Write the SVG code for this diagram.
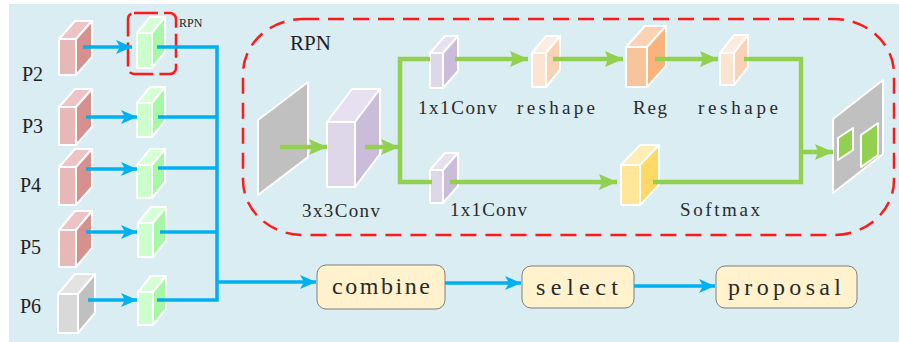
<svg xmlns="http://www.w3.org/2000/svg" width="899" height="342" viewBox="0 0 899 342">
<style>
.cb polygon,.cb rect{stroke:#fff;stroke-width:2;stroke-linejoin:round}
.lbl{font-family:"Liberation Serif",serif;fill:#222}
.mono{font-family:"Liberation Serif",serif;fill:#2a2a2a}
.blue{fill:none;stroke:#00b0f0;stroke-width:3.5}
.green{fill:none;stroke:#92d050;stroke-width:4.5}
.box rect{fill:#fff2cc;stroke:#7f7f7f;stroke-width:1}
.dash{fill:none;stroke:#ff1a1a;stroke-width:2.5}
</style>
<defs>
<marker id="ab" markerUnits="userSpaceOnUse" markerWidth="18" markerHeight="16" refX="16" refY="7" orient="auto"><path d="M0,0 L16,7 L0,14 L4,7 z" fill="#00b0f0"/></marker>
<marker id="ag" markerUnits="userSpaceOnUse" markerWidth="20" markerHeight="18" refX="18" refY="8" orient="auto"><path d="M0,0 L18,8 L0,16 L3,8 z" fill="#92d050"/></marker>
</defs>
<rect x="9" y="4" width="890" height="338" fill="#daedf3"/>

<!-- RPN dashed regions -->
<rect class="dash" x="243" y="19" width="651" height="216" rx="60" ry="55" stroke-dasharray="16 9"/>
<text class="lbl" x="290" y="50" font-size="21">RPN</text>
<rect class="dash" x="128" y="13" width="48" height="61" rx="6" stroke-dasharray="24 6"/>
<text class="lbl" x="179" y="27" font-size="12">RPN</text>

<!-- FPN levels -->
<g id="P2" class="cb">
<rect x="59" y="39" width="17" height="36" fill="#e6b8b7"/>
<polygon points="59,39 75,21 92,21 76,39" fill="#edc4c3"/>
<polygon points="76,39 92,21 92,57 76,75" fill="#d6908e"/>
<text class="lbl" x="22" y="81" font-size="20" stroke="none">P2</text>
</g>
<g id="P3" class="cb">
<rect x="59" y="107" width="17" height="38" fill="#e6b8b7"/>
<polygon points="59,107 75,89 92,89 76,107" fill="#edc4c3"/>
<polygon points="76,107 92,89 92,127 76,145" fill="#d6908e"/>
<text class="lbl" x="22" y="133" font-size="20" stroke="none">P3</text>
</g>
<g id="P4" class="cb">
<rect x="59" y="167" width="17" height="38" fill="#e6b8b7"/>
<polygon points="59,167 75,149 92,149 76,167" fill="#edc4c3"/>
<polygon points="76,167 92,149 92,187 76,205" fill="#d6908e"/>
<text class="lbl" x="20" y="192" font-size="20" stroke="none">P4</text>
</g>
<g id="P5" class="cb">
<rect x="59" y="230" width="17" height="37" fill="#e6b8b7"/>
<polygon points="59,230 75,211 92,211 76,230" fill="#edc4c3"/>
<polygon points="76,230 92,211 92,248 76,267" fill="#d6908e"/>
<text class="lbl" x="20" y="254" font-size="20" stroke="none">P5</text>
</g>
<g id="P6" class="cb">
<rect x="58" y="294" width="20" height="39" fill="#d9d9d9"/>
<polygon points="58,294 75,274 95,274 78,294" fill="#e3e3e3"/>
<polygon points="78,294 95,274 95,313 78,333" fill="#c0c0c0"/>
<text class="lbl" x="20" y="313" font-size="20" stroke="none">P6</text>
</g>

<!-- small RPN heads -->
<g id="rpn2" class="cb">
<rect x="137" y="33" width="15" height="35" fill="#ccffcc"/>
<polygon points="137,33 150,17 165,17 152,33" fill="#d6ffd6"/>
<polygon points="152,33 165,17 165,52 152,68" fill="#a6f7a6"/>
</g>
<g id="rpn3" class="cb">
<rect x="137" y="103" width="15" height="34" fill="#ccffcc"/>
<polygon points="137,103 150,87 165,87 152,103" fill="#d6ffd6"/>
<polygon points="152,103 165,87 165,121 152,137" fill="#a6f7a6"/>
</g>
<g id="rpn4" class="cb">
<rect x="137" y="165" width="15" height="33" fill="#ccffcc"/>
<polygon points="137,165 150,149 165,149 152,165" fill="#d6ffd6"/>
<polygon points="152,165 165,149 165,182 152,198" fill="#a6f7a6"/>
</g>
<g id="rpn5" class="cb">
<rect x="138" y="223" width="15" height="34" fill="#ccffcc"/>
<polygon points="138,223 151,207 166,207 153,223" fill="#d6ffd6"/>
<polygon points="153,223 166,207 166,241 153,257" fill="#a6f7a6"/>
</g>
<g id="rpn6" class="cb">
<rect x="138" y="292" width="15" height="33" fill="#ccffcc"/>
<polygon points="138,292 151,276 166,276 153,292" fill="#d6ffd6"/>
<polygon points="153,292 166,276 166,309 153,325" fill="#a6f7a6"/>
</g>

<!-- RPN detail -->
<g id="featmap" class="cb">
<polygon points="258,120 308,82 308,157 258,195" fill="#c0c0c0"/>
</g>
<g id="conv3" class="cb">
<rect x="327" y="122" width="28" height="65" fill="#ded7ea"/>
<polygon points="327,122 352,89 380,89 355,122" fill="#e6e0f0"/>
<polygon points="355,122 380,89 380,154 355,187" fill="#cabdda"/>
<text class="mono" x="302" y="217" font-size="19" textLength="78" lengthAdjust="spacing" stroke="none">3x3Conv</text>
</g>
<g id="conv1a" class="cb">
<rect x="430" y="53" width="13" height="35" fill="#ded7ea"/>
<polygon points="430,53 445,36 458,36 443,53" fill="#e6e0f0"/>
<polygon points="443,53 458,36 458,71 443,88" fill="#cabdda"/>
<text class="mono" x="418" y="114" font-size="19" textLength="79" lengthAdjust="spacing" stroke="none">1x1Conv</text>
</g>
<g id="reshape1" class="cb">
<rect x="532" y="53" width="14" height="34" fill="#fce4d3"/>
<polygon points="532,53 546,36 560,36 546,53" fill="#fdecdf"/>
<polygon points="546,53 560,36 560,70 546,87" fill="#f9d2b5"/>
<text class="mono" x="517" y="114" font-size="19" textLength="78" lengthAdjust="spacing" stroke="none">reshape</text>
</g>
<g id="reg" class="cb">
<rect x="626" y="47" width="21" height="40" fill="#f8c49c"/>
<polygon points="626,47 645,26 666,26 647,47" fill="#fbd2b2"/>
<polygon points="647,47 666,26 666,66 647,87" fill="#fab37c"/>
<text class="mono" x="633" y="114" font-size="19" textLength="34" lengthAdjust="spacing" stroke="none">Reg</text>
</g>
<g id="reshape2" class="cb">
<rect x="720" y="53" width="14" height="32" fill="#fce4d3"/>
<polygon points="720,53 734,35 748,35 734,53" fill="#fdecdf"/>
<polygon points="734,53 748,35 748,67 734,85" fill="#f9d2b5"/>
<text class="mono" x="698" y="114" font-size="19" textLength="80" lengthAdjust="spacing" stroke="none">reshape</text>
</g>
<g id="conv1b" class="cb">
<rect x="430" y="170" width="13" height="33" fill="#ded7ea"/>
<polygon points="430,170 445,153 458,153 443,170" fill="#e6e0f0"/>
<polygon points="443,170 458,153 458,186 443,203" fill="#cabdda"/>
<text class="mono" x="450" y="216" font-size="19" textLength="77" lengthAdjust="spacing" stroke="none">1x1Conv</text>
</g>
<g id="softmax" class="cb">
<rect x="621" y="165" width="19" height="40" fill="#ffe699"/>
<polygon points="621,165 640,145 659,145 640,165" fill="#ffeeb3"/>
<polygon points="640,165 659,145 659,185 640,205" fill="#ffd966"/>
<text class="mono" x="680" y="216" font-size="19" textLength="80" lengthAdjust="spacing" stroke="none">Softmax</text>
</g>
<g id="output" class="cb">
<polygon points="833,119 883,80 883,154 833,193" fill="#c0c0c0"/>
<polygon points="838,138 853,128 853,150 838,160" fill="#92d050"/>
<polygon points="861,135 878,123 878,155 861,167" fill="#92d050"/>
</g>

<!-- bottom pipeline -->
<g id="combine" class="box">
<rect x="317" y="265" width="128" height="44" rx="9"/>
<text class="mono" x="332" y="294" font-size="24" textLength="98" lengthAdjust="spacing">combine</text>
</g>
<g id="select" class="box">
<rect x="522" y="266" width="112" height="42" rx="9"/>
<text class="mono" x="536" y="295" font-size="24" textLength="82" lengthAdjust="spacing">select</text>
</g>
<g id="proposal" class="box">
<rect x="716" y="266" width="141" height="42" rx="9"/>
<text class="mono" x="728" y="295" font-size="24" textLength="113" lengthAdjust="spacing">proposal</text>
</g>

<g id="connectors">
<path class="blue" d="M83,47 H132" marker-end="url(#ab)"/>
<path class="blue" d="M86,117 H137" marker-end="url(#ab)"/>
<path class="blue" d="M86,169 H137" marker-end="url(#ab)"/>
<path class="blue" d="M86,232 H137" marker-end="url(#ab)"/>
<path class="blue" d="M88,300 H137" marker-end="url(#ab)"/>
<path class="blue" d="M157,47 H217 V300 H157"/>
<path class="blue" d="M158,117 H217"/>
<path class="blue" d="M158,168 H217"/>
<path class="blue" d="M160,232 H217"/>
<path class="blue" d="M217,282 H316" marker-end="url(#ab)"/>
<path class="blue" d="M445,283 H521" marker-end="url(#ab)"/>
<path class="blue" d="M634,286 H715" marker-end="url(#ab)"/>
<path class="green" d="M280,147 H327" marker-end="url(#ag)"/>
<path class="green" d="M365,147 H399" marker-end="url(#ag)"/>
<path class="green" d="M430,59 H400 V182 H432"/>
<path class="green" d="M455,59 H528" marker-end="url(#ag)"/>
<path class="green" d="M553,59 H623" marker-end="url(#ag)"/>
<path class="green" d="M655,59 H718" marker-end="url(#ag)"/>
<path class="green" d="M450,182 H617" marker-end="url(#ag)"/>
<path class="green" d="M744,59 H801 V182 H653"/>
<path class="green" d="M799,152 H833" marker-end="url(#ag)"/>
</g>
</svg>
